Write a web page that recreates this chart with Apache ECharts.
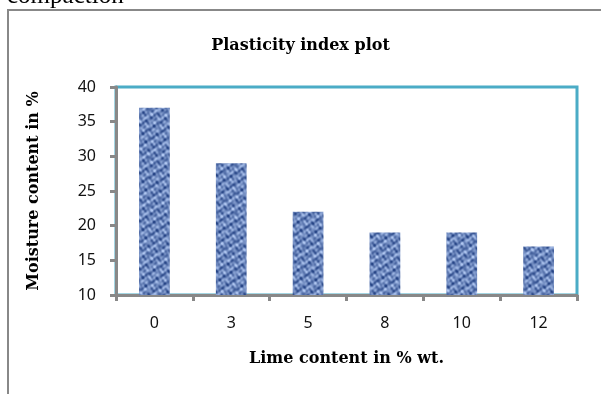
<!DOCTYPE html>
<html><head><meta charset="utf-8">
<script src="https://cdn.jsdelivr.net/npm/echarts@6/dist/echarts.min.js"></script>
<style>html,body{margin:0;padding:0;background:#fff}#c{width:601px;height:394px}</style>
</head><body><div id="c"></div>
<script>
const categories = ['0','3','5','8','10','12'];
const moisture = [37, 29, 22, 19, 19, 17];
const yTicks = [10, 15, 20, 25, 30, 35, 40];

// deterministic mottled denim-like texture
function makeTexture(){
  const N = 48;
  const c = document.createElement('canvas');
  c.width = N; c.height = N;
  const ctx = c.getContext('2d');
  const img = ctx.createImageData(N,N);
  const t = Math.PI*2/N;
  for (let y=0;y<N;y++) for (let x=0;x<N;x++){
    let v = Math.sin(x*t*3+y*t*5)*0.45 + Math.cos(y*t*7 - x*t*4)*0.35
          + Math.sin((x*2+y*3)*t*3)*0.3 + Math.cos((x*5-y*2)*t*2)*0.3
          + Math.sin(x*t*11)*Math.cos(y*t*9)*0.25;
    v = (v+1.2)/2.4; v = Math.max(0,Math.min(1,v));
    const dark=[40,70,135], light=[175,198,240];
    const i=(y*N+x)*4;
    img.data[i]=dark[0]+(light[0]-dark[0])*v;
    img.data[i+1]=dark[1]+(light[1]-dark[1])*v;
    img.data[i+2]=dark[2]+(light[2]-dark[2])*v;
    img.data[i+3]=255;
  }
  ctx.putImageData(img,0,0);
  return c;
}

const chart = echarts.init(document.getElementById('c'), null, {renderer:'canvas'});
const serif = '"DejaVu Serif", "Liberation Serif", serif';
const sans = '"Noto Sans", "DejaVu Sans", sans-serif';
chart.setOption({
  animation:false,
  title:{text:'Plasticity index plot', left:'center', top:33,
    textStyle:{fontFamily:serif, fontWeight:'bold', fontSize:16, color:'#000'}},
  graphic:[
    {type:'rect', shape:{x:8,y:10,width:700,height:500}, style:{fill:'none', stroke:'#888', lineWidth:2}, z:0},
    {type:'text', left:7, top:-16, style:{text:'compaction', font:'25px "Liberation Serif", serif', fill:'#000'}}
  ],
  grid:{left:116, top:87, right:24, bottom:99, show:true, borderColor:'#4bacc6', borderWidth:3, backgroundColor:'#fff'},
  xAxis:{type:'category', data:categories,
    name:'Lime content in % wt.', nameLocation:'middle', nameGap:56,
    nameTextStyle:{fontFamily:serif, fontWeight:'bold', fontSize:16, color:'#000'},
    axisLine:{lineStyle:{color:'#888', width:3}},
    axisTick:{show:true, length:6, lineStyle:{color:'#888', width:3}},
    axisLabel:{margin:20, fontFamily:sans, fontSize:16, color:'#111'}},
  yAxis:{type:'value', min:yTicks[0], max:yTicks[yTicks.length-1], interval:5,
    name:'Moisture content in %', nameLocation:'middle', nameGap:74, nameRotate:90,
    nameTextStyle:{fontFamily:serif, fontWeight:'bold', fontSize:16, color:'#000'},
    axisLine:{show:true, lineStyle:{color:'#888', width:3}},
    axisTick:{show:true, length:6, lineStyle:{color:'#888', width:3}},
    splitLine:{show:false},
    axisLabel:{margin:20, fontFamily:sans, fontSize:16, color:'#111'}},
  series:[{type:'bar', data:moisture, barWidth:'40%',
    itemStyle:{color:{image:makeTexture(), repeat:'repeat'}}}]
});
</script></body></html>
